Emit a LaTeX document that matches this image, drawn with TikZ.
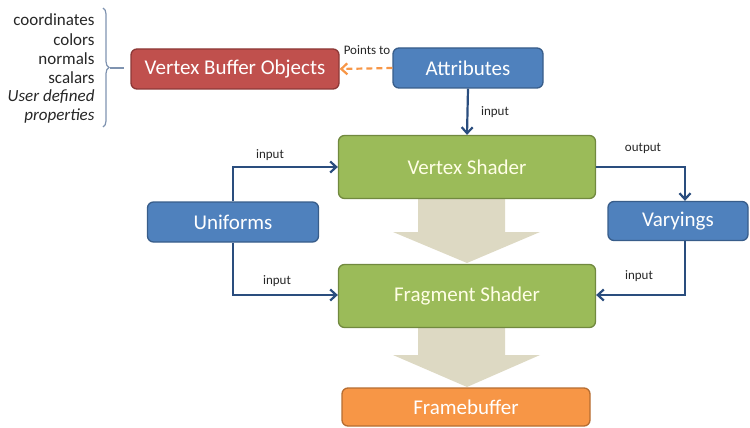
\documentclass[tikz,border=0pt]{standalone}
\usepackage{fontspec}
\setmainfont{Carlito}
\usetikzlibrary{arrows.meta,decorations.pathreplacing}
\definecolor{redfill}{HTML}{C0504D}
\definecolor{redline}{HTML}{8C3836}
\definecolor{bluefill}{HTML}{4F81BD}
\definecolor{blueline}{HTML}{385D8A}
\definecolor{greenfill}{HTML}{9BBB59}
\definecolor{greenline}{HTML}{71893F}
\definecolor{orangefill}{HTML}{F79646}
\definecolor{orangeline}{HTML}{B66D31}
\definecolor{flowgray}{HTML}{DDD9C3}
\definecolor{linkblue}{HTML}{2A4D7E}
\definecolor{bracecol}{HTML}{7F93B0}
\tikzset{
  box/.style={draw, line width=1.3pt, rounded corners=6pt, text=white,
    font=\fontsize{21}{24}\selectfont, inner sep=0pt},
  redbox/.style={box, fill=redfill, draw=redline},
  bluebox/.style={box, fill=bluefill, draw=blueline},
  greenbox/.style={box, fill=greenfill, draw=greenline, text=white!90!yellow},
  orangebox/.style={box, fill=orangefill, draw=orangeline},
  link/.style={draw=linkblue, line width=2.2pt, -{Straight Barb[length=6pt,width=11pt,line width=2.2pt]}},
  lbl/.style={font=\fontsize{13}{15}\selectfont, text=black!85},
  listtxt/.style={font=\fontsize{17}{19}\selectfont, anchor=east, text=black!85},
  flow/.style={fill=flowgray, draw=none}
}
\begin{document}
\begin{tikzpicture}[x=1pt,y=-1pt]
\useasboundingbox (0,0) rectangle (750,428);

% boxes: drawn as rectangles with named nodes in their centres
\node[redbox, minimum width=208pt, minimum height=40pt] (vbo) at (235,69) {Vertex Buffer Objects};
\node[bluebox, minimum width=150pt, minimum height=40pt] (attr) at (468,68) {Attributes};

% gray flow arrows between the shader stages
\fill[flow] (418,198) -- (505,198) -- (505,232) -- (540,232) -- (467,263) -- (393,232) -- (418,232) -- cycle;
\fill[flow] (418,328) -- (505,328) -- (505,355) -- (540,355) -- (467,387) -- (393,355) -- (418,355) -- cycle;

\node[greenbox, minimum width=257pt, minimum height=63pt] (vs) at (467,167) {Vertex Shader};
\node[greenbox, minimum width=257pt, minimum height=63pt] (fs) at (467,296) {Fragment Shader};
\node[orangebox, minimum width=248pt, minimum height=38pt] (fb) at (466,407) {Framebuffer};
\node[bluebox, minimum width=171pt, minimum height=40pt] (uni) at (233,222) {Uniforms};
\node[bluebox, minimum width=140pt, minimum height=39pt] (var) at (678,221) {Varyings};

% connectors
\draw[draw=orangefill, line width=2.2pt, dash pattern=on 6pt off 4pt,
  -{Straight Barb[length=6pt,width=11pt,line width=2.2pt]}] (attr.west) -- (vbo.east);
\node[lbl, anchor=south] (ptlbl) at (367,58) {Points to};

\path[link] (attr.south) -- (vs.north);
\node[lbl] (l1) at (495,112) {input};

\coordinate (uup) at (233,167);
\coordinate (udn) at (233,295);
\path[link] (uni.north) -- (uup) -- (vs.west |- uup);
\path[link] (uni.south) -- (udn) -- (fs.west |- udn);
\node[lbl] (l2) at (270,155) {input};
\node[lbl] (l3) at (277,281) {input};

\coordinate (vout) at (685,167);
\coordinate (vin) at (685,295);
\path[link] (vs.east |- vout) -- (vout) -- (var.north -| vout);
\path[link] (var.south -| vin) -- (vin) -- (fs.east |- vin);
\node[lbl] (l4) at (643,148) {output};
\node[lbl] (l5) at (639,276) {input};

% attribute list with brace
\node[listtxt] (t1) at (98,20) {coordinates};
\node[listtxt] (t2) at (98,40) {colors};
\node[listtxt] (t3) at (98,59) {normals};
\node[listtxt] (t4) at (98,78) {scalars};
\node[listtxt] (t5) at (98,97) {\itshape User defined};
\node[listtxt] (t6) at (98,116) {\itshape properties};
\draw[bracecol, line width=1.2pt, decorate, decoration={brace, amplitude=6pt}]
  (103,8) -- (103,127);
\draw[bracecol, line width=1.2pt] (110,68) -- (124,68);
\end{tikzpicture}
\end{document}
